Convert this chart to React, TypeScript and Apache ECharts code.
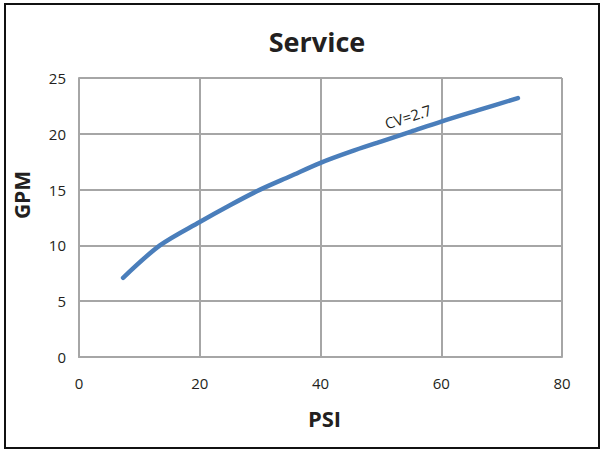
import React, { useEffect, useRef } from "react";
import * as echarts from "echarts";

const psi = [7.3, 13.4, 20, 25, 30, 35, 40, 45, 50, 55, 60, 66, 72.7];
const gpm = [7.1, 10.0, 12.1, 13.6, 15.0, 16.2, 17.4, 18.4, 19.3, 20.2, 21.1, 22.1, 23.2];
const xTicks = [0, 20, 40, 60, 80];
const yTicks = [0, 5, 10, 15, 20, 25];
const curveLabel = "CV=2.7";
const labelAt = [54.5, 21.55];

export default function App() {
  const ref = useRef<HTMLDivElement>(null);
  useEffect(() => {
    const chart = echarts.init(ref.current!, null, { renderer: "svg" });
    const font = "'Open Sans', 'Noto Sans', sans-serif";
    chart.setOption({
      animation: false,
      backgroundColor: "#fff",
      textStyle: { fontFamily: font },
      graphic: [
        {
          type: "rect",
          shape: { x: 5, y: 4, width: 594, height: 444 },
          style: { fill: "none", stroke: "#111", lineWidth: 2 },
          silent: true,
          z: 100,
        },
        {
          type: "text",
          x: 317,
          y: 41,
          style: {
            text: "Service",
            fontSize: 27,
            fontWeight: "bold",
            fill: "#231f20",
            fontFamily: font,
            align: "center",
            verticalAlign: "middle",
          },
        },
        {
          type: "text",
          x: 22,
          y: 195,
          rotation: Math.PI / 2,
          style: {
            text: "GPM",
            fontSize: 21,
            fontWeight: "bold",
            fill: "#231f20",
            fontFamily: font,
            align: "center",
            verticalAlign: "middle",
          },
        },
      ],
      grid: { left: 79, right: 40, top: 78, bottom: 95 },
      xAxis: {
        type: "value",
        min: xTicks[0],
        max: xTicks[xTicks.length - 1],
        interval: 20,
        name: "PSI",
        nameLocation: "middle",
        nameGap: 50,
        nameTextStyle: { fontSize: 22, fontWeight: "bold", color: "#231f20", fontFamily: font, padding: [0, 0, 0, 8] },
        axisLine: { show: true, lineStyle: { color: "#a6a6a6", width: 2 } },
        axisTick: { show: false },
        axisLabel: { fontSize: 15, color: "#231f20", margin: 18, fontFamily: font },
        splitLine: { show: true, lineStyle: { color: "#a6a6a6", width: 2 } },
      },
      yAxis: {
        type: "value",
        min: yTicks[0],
        max: yTicks[yTicks.length - 1],
        interval: 5,
        axisLine: { show: true, lineStyle: { color: "#a6a6a6", width: 2 } },
        axisTick: { show: false },
        axisLabel: { fontSize: 15, color: "#231f20", margin: 13, fontFamily: font },
        splitLine: { show: true, lineStyle: { color: "#a6a6a6", width: 2 } },
      },
      series: [
        {
          type: "line",
          data: psi.map((x, i) => [x, gpm[i]]),
          smooth: 0.3,
          showSymbol: false,
          symbol: "none",
          lineStyle: { color: "#4a7ebb", width: 4.5, cap: "round" },
          markPoint: {
            symbol: "circle",
            symbolSize: 0,
            data: [{ coord: labelAt, value: curveLabel }],
            label: {
              show: true,
              formatter: curveLabel,
              rotate: 18,
              fontSize: 15,
              color: "#231f20",
              fontFamily: font,
              position: "inside",
            },
          },
        },
      ],
    });
    return () => chart.dispose();
  }, []);
  return (
    <div
      ref={ref}
      style={{ position: "fixed", left: 0, top: 0, width: 602, height: 452 }}
    />
  );
}
